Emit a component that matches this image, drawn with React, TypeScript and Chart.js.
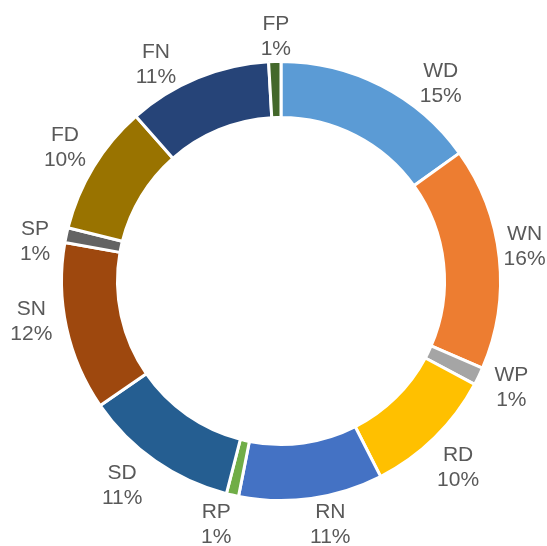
import React, { useEffect, useRef } from "react";
import { Chart, registerables } from "chart.js";

Chart.register(...registerables);

const categories = ["WD", "WN", "WP", "RD", "RN", "RP", "SD", "SN", "SP", "FD", "FN", "FP"];
const values = [15.1, 16.4, 1.3, 9.7, 10.6, 0.9, 11.4, 12.4, 1.1, 9.6, 10.6, 0.9];
const colors = [
  "#5B9BD5", "#ED7D31", "#A5A5A5", "#FFC000", "#4472C4", "#70AD47",
  "#255E91", "#9E480E", "#636363", "#997300", "#264478", "#43682B",
];
// label placement tweaks (degrees of rotation from the slice mid-angle, px beyond the ring)
const labelAngleNudge = [11.8, -1.9, -0.8, 0.9, -3.5, 2.1, 2.9, 2.9, -3, 0.4, -7.7, 0.4];
const labelGap = [36, 28, 36, 39, 31, 34, 41, 35, 31, 36, 32, 26];

const labelPlugin = {
  id: "outsideLabels",
  afterDatasetsDraw(chart: any) {
    const ctx = chart.ctx;
    const meta = chart.getDatasetMeta(0);
    const data = chart.data.datasets[0].data as number[];
    const total = data.reduce((a, b) => a + b, 0);
    ctx.save();
    ctx.font = '21px "Liberation Sans", Arial, sans-serif';
    ctx.fillStyle = "#595959";
    ctx.textAlign = "center";
    ctx.textBaseline = "middle";
    meta.data.forEach((arc: any, i: number) => {
      const p = arc.getProps(["x", "y", "startAngle", "endAngle", "outerRadius"], true);
      const mid = (p.startAngle + p.endAngle) / 2 + (labelAngleNudge[i] * Math.PI) / 180;
      const r = p.outerRadius - 1.5 + labelGap[i];
      const cx = p.x + Math.cos(mid) * r;
      const cy = p.y + Math.sin(mid) * r;
      const pct = Math.round((data[i] / total) * 100) + "%";
      ctx.fillText(chart.data.labels[i], cx, cy - 12.5);
      ctx.fillText(pct, cx, cy + 12.5);
    });
    ctx.restore();
  },
};

export default function App() {
  const ref = useRef<HTMLCanvasElement>(null);
  useEffect(() => {
    if (!ref.current) return;
    const chart = new Chart(ref.current, {
      type: "doughnut",
      data: {
        labels: categories,
        datasets: [
          {
            data: values,
            backgroundColor: colors,
            borderColor: "#FFFFFF",
            borderWidth: 3,
            hoverBorderWidth: 3,
            hoverOffset: 0,
          },
        ],
      },
      options: {
        responsive: false,
        animation: false,
        cutout: "74.5%",
        layout: { padding: { left: 60, top: 60, right: 45, bottom: 44 } },
        plugins: {
          legend: { display: false },
          tooltip: { enabled: false },
        },
        events: [],
      },
      plugins: [labelPlugin],
    });
    return () => chart.destroy();
  }, []);
  return (
    <div style={{ position: "fixed", left: 0, top: 0, width: 547, height: 546, background: "#fff" }}>
      <canvas ref={ref} width={547} height={546} style={{ width: 547, height: 546, display: "block" }} />
    </div>
  );
}
